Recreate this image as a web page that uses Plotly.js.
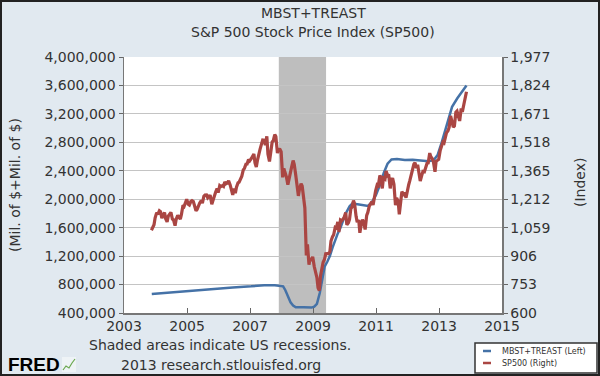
<!DOCTYPE html>
<html><head><meta charset="utf-8">
<script src="https://cdn.plot.ly/plotly-3.0.1.min.js"></script>
<style>
html,body{margin:0;padding:0;background:#e1e9f0;}
#wrap{position:relative;width:600px;height:376px;}
#chart{width:600px;height:376px;}
#frame{position:absolute;left:0;top:0;width:600px;height:376px;box-sizing:border-box;border:2px solid #222;pointer-events:none;}
</style></head>
<body><div id="wrap"><div id="chart"></div><div id="frame"></div></div>
<script>
// Titles / labels
const titleLines = ["MBST+TREAST", "S&P 500 Stock Price Index (SP500)"];
const leftTitle = "(Mil. of $+Mil. of $)";
const rightTitle = "(Index)";
const seriesNames = ["MBST+TREAST (Left)", "SP500 (Right)"];
const recessionStart = ["2007-12-01"];
const recessionEnd = ["2009-06-01"];

// MBST+TREAST (left axis, millions of $)
const mbstDates = ["2003-11-19","2004-01-15","2004-06-15","2005-01-15","2005-06-15","2006-01-15","2006-06-15","2007-01-15","2007-06-15","2007-10-15","2007-12-15","2008-01-20","2008-02-15","2008-03-15","2008-04-15","2008-05-15","2008-06-15","2008-09-15","2008-12-15","2009-01-15","2009-02-15","2009-03-20","2009-04-15","2009-05-15","2009-06-15","2009-07-15","2009-08-15","2009-09-15","2009-10-15","2009-11-15","2009-12-15","2010-01-15","2010-03-01","2010-04-01","2010-06-01","2010-08-01","2010-10-01","2010-11-15","2011-01-01","2011-02-15","2011-04-01","2011-05-15","2011-06-30","2011-09-01","2011-12-01","2012-03-01","2012-06-01","2012-09-01","2012-11-01","2012-12-15","2013-02-01","2013-04-01","2013-06-01","2013-08-01","2013-10-01","2013-11-15"];
const mbstValues = [666000,672000,690000,712000,728000,745000,760000,775000,790000,790000,785000,775000,720000,640000,550000,505000,480000,480000,476000,490000,530000,680000,880000,1050000,1120000,1200000,1320000,1430000,1520000,1600000,1700000,1800000,1900000,1940000,1930000,1920000,1905000,1960000,2060000,2200000,2370000,2500000,2560000,2565000,2550000,2555000,2545000,2535000,2550000,2620000,2800000,3050000,3300000,3420000,3520000,3600000];

// SP500 (right axis, index) — two readings per month (mid, late), from Nov 2003
const spStartYear = 2003, spStartMonth = 11;
const spDays = ["15", "28"];
const spValues = [1045,1058, 1075,1112,
 1140,1131, 1150,1145, 1110,1126, 1140,1107, 1090,1121, 1130,1141, 1105,1101, 1070,1104, 1125,1115, 1105,1130, 1180,1174, 1205,1212,
 1185,1181, 1200,1204, 1200,1181, 1150,1157, 1180,1192, 1205,1191, 1228,1234, 1235,1220, 1230,1229, 1185,1207, 1235,1249, 1270,1248,
 1285,1280, 1285,1281, 1305,1295, 1300,1311, 1290,1270, 1235,1270, 1245,1277, 1300,1304, 1325,1336, 1370,1378, 1400,1401, 1425,1418,
 1430,1438, 1455,1407, 1385,1421, 1470,1482, 1510,1531, 1530,1503, 1550,1455, 1415,1474, 1520,1527, 1560,1549, 1460,1481, 1480,1468,
 1330,1378, 1350,1331, 1290,1323, 1370,1386, 1420,1400, 1340,1280, 1230,1267, 1295,1283, 1210,1165, 910,969, 860,896, 880,903,
 850,826, 790,735, 720,798, 850,873, 890,919, 920,919, 930,987, 1010,1021, 1060,1057, 1090,1036, 1100,1096, 1105,1115,
 1140,1074, 1085,1104, 1160,1169, 1205,1187, 1120,1089, 1100,1031, 1080,1102, 1080,1049, 1125,1141, 1175,1183, 1200,1181, 1240,1258,
 1290,1286, 1340,1327, 1270,1326, 1320,1364, 1340,1345, 1270,1321, 1320,1292, 1180,1219, 1200,1131, 1200,1253, 1240,1247, 1220,1258,
 1290,1312, 1350,1366, 1400,1408, 1380,1398, 1330,1310, 1340,1362, 1360,1379, 1405,1407, 1460,1441, 1430,1412, 1360,1416, 1420,1426,
 1475,1498, 1520,1515, 1555,1569, 1580,1598, 1660,1631, 1600,1606, 1680,1686, 1660,1633, 1700,1682, 1720,1757, 1790];

const spDates = [];
for (let i = 0; i < spValues.length; i++) {
  const m = Math.floor(i / 2);
  const total = (spStartMonth - 1) + m;
  const y = spStartYear + Math.floor(total / 12);
  const mo = (total % 12) + 1;
  spDates.push(y + "-" + String(mo).padStart(2, "0") + "-" + spDays[i % 2]);
}

// x tick labels
const xTickVals = ["2003-01-01","2005-01-01","2007-01-01","2009-01-01","2011-01-01","2013-01-01","2015-01-01"];
const xTickText = ["2003","2005","2007","2009","2011","2013","2015"];

const blue = "#4572A7", red = "#AA4643";
const FONT = "DejaVu Sans, Verdana, sans-serif";
const txt = "#333333";

const traces = [
  {x: spDates, y: spValues, yaxis: "y2", type: "scatter", mode: "lines", name: seriesNames[1],
   line: {color: red, width: 3.2}, showlegend: false},
  {x: mbstDates, y: mbstValues, type: "scatter", mode: "lines", name: seriesNames[0],
   line: {color: blue, width: 2.5}, showlegend: false}
];

const L = 124, R = 502, T = 57, B = 313;
const W = R - L, H = B - T;
const px = v => (v - L) / W;
const py = v => (B - v) / H;

const shapes = [];
for (let i = 0; i < recessionStart.length; i++) {
  shapes.push({type: "rect", xref: "x", yref: "paper", x0: recessionStart[i], x1: recessionEnd[i], y0: 0, y1: 1,
    fillcolor: "#bebebe", line: {width: 0}, layer: "between"});
}
// legend box
shapes.push({type: "rect", xref: "paper", yref: "paper", x0: px(475), x1: px(597), y0: py(373), y1: py(343),
  fillcolor: "#ffffff", line: {color: "#333", width: 1.5}});
shapes.push({type: "line", xref: "paper", yref: "paper", x0: px(483), x1: px(491), y0: py(351), y1: py(351), line: {color: blue, width: 2.5}});
shapes.push({type: "line", xref: "paper", yref: "paper", x0: px(483), x1: px(491), y0: py(363), y1: py(363), line: {color: red, width: 2.5}});
// small FRED chart icon
shapes.push({type: "rect", xref: "paper", yref: "paper", x0: px(62), x1: px(76), y0: py(372), y1: py(357), fillcolor: "#eef3f6", line: {width: 0}});
shapes.push({type: "path", xref: "paper", yref: "paper",
  path: "M " + px(63) + "," + py(370) + " L " + px(66) + "," + py(366) + " L " + px(69) + "," + py(368) + " L " + px(72) + "," + py(363) + " L " + px(75) + "," + py(359),
  line: {color: "#6aa84f", width: 1.2}});

function ann(text, x, y, opts) {
  return Object.assign({text: text, x: px(x), y: py(y), xref: "paper", yref: "paper", showarrow: false,
    xanchor: "center", yanchor: "middle", font: {size: 14, color: txt, family: FONT}}, opts || {});
}
const annotations = [
  ann(titleLines[0], 313, 13),
  ann(titleLines[1], 313, 32),
  ann(leftTitle, 15, 185, {textangle: -90}),
  ann(rightTitle, 580, 183, {textangle: -90}),
  ann("Shaded areas indicate US recessions.", 87, 345, {xanchor: "left"}),
  ann("2013 research.stlouisfed.org", 119, 365, {xanchor: "left"}),
  ann("<b>FRED</b>", 6, 364, {xanchor: "left", font: {size: 19, color: "#000", family: "Liberation Sans, Arial, sans-serif"}}),
  ann(seriesNames[0], 500, 351, {xanchor: "left", font: {size: 8, color: txt, family: FONT}}),
  ann(seriesNames[1], 500, 363, {xanchor: "left", font: {size: 8, color: txt, family: FONT}})
];

const layout = {
  width: 600, height: 376,
  margin: {l: L, r: 600 - R, t: T, b: 376 - B, pad: 0},
  paper_bgcolor: "#e1e9f0", plot_bgcolor: "#ffffff",
  font: {family: FONT, size: 14, color: txt},
  showlegend: false,
  xaxis: {type: "date", range: ["2003-01-01", "2015-01-01"], tickvals: xTickVals, ticktext: xTickText,
    ticks: "inside", ticklen: 5, tickcolor: "#666", showgrid: false, showline: true, linecolor: "#777", linewidth: 1.5,
    tickfont: {size: 14, color: txt}, zeroline: false, mirror: false},
  yaxis: {range: [400000, 4000000], tick0: 400000, dtick: 400000, tickformat: ",d", ticks: "outside", ticklen: 4,
    tickcolor: "#666", showline: true, linecolor: "#777", linewidth: 1.5, gridcolor: "#c4c4c4", gridwidth: 1,
    zeroline: false, tickfont: {size: 14, color: txt}},
  yaxis2: {range: [600, 1977], tick0: 600, dtick: 153, tickformat: ",d", overlaying: "y", side: "right", ticks: "outside",
    ticklen: 4, tickcolor: "#666", showline: true, linecolor: "#777", linewidth: 1.5, showgrid: false, zeroline: false,
    tickfont: {size: 14, color: txt}},
  shapes: shapes,
  annotations: annotations
};

Plotly.newPlot("chart", traces, layout, {displayModeBar: false, staticPlot: true});
</script></body></html>
